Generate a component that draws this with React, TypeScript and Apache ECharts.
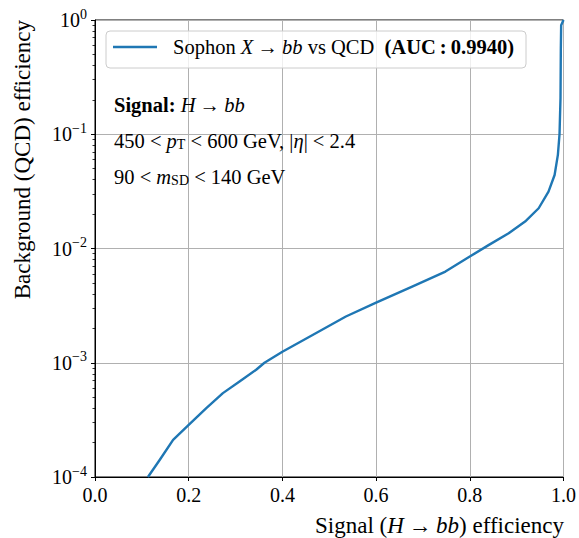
import React, { useEffect, useRef } from "react";
import * as echarts from "echarts";

const signalEff = [0.113, 0.138, 0.1667, 0.2, 0.2376, 0.273, 0.3085, 0.344, 0.3617, 0.4, 0.4645, 0.5355, 0.6, 0.677, 0.748, 0.8, 0.84, 0.883, 0.918, 0.947, 0.968, 0.981, 0.988, 0.9915, 0.9936, 0.9943, 0.995, 1.0];
const bkgEff = [1e-4, 1.41e-4, 2.11e-4, 2.86e-4, 4.01e-4, 5.42e-4, 6.85e-4, 8.68e-4, 1.0e-3, 1.25e-3, 1.75e-3, 2.54e-3, 3.36e-3, 4.64e-3, 6.28e-3, 8.5e-3, 1.07e-2, 1.36e-2, 1.72e-2, 2.25e-2, 3.15e-2, 4.4e-2, 6.6e-2, 0.1, 0.206, 0.565, 0.9, 1.0];
const xTicks = [0, 0.2, 0.4, 0.6, 0.8, 1.0];

const FONT = "'Liberation Serif', 'DejaVu Serif', serif";
const FS = 20.5;
const TICK_FS = 20;
const LABEL_FS = 23;

export default function App() {
  const ref = useRef<HTMLDivElement>(null);
  useEffect(() => {
    if (!ref.current) return;
    document.body.style.margin = "0";
    const chart = echarts.init(ref.current, null, { renderer: "svg" });
    const minorTicks: number[] = [];
    for (let e = -4; e < 0; e++) for (let m = 2; m <= 9; m++) minorTicks.push(m * Math.pow(10, e));
    const italic = { fontStyle: "italic", fontFamily: FONT, fontSize: FS, fill: "#000" };
    const bold = { fontWeight: "bold", fontFamily: FONT, fontSize: FS, fill: "#000" };
    const sub = { fontFamily: FONT, fontSize: 14, verticalAlign: "bottom" };
    const option: any = {
      animation: false,
      textStyle: { fontFamily: FONT },
      grid: { left: 95, right: 14, top: 20, bottom: 61, show: true, borderColor: "#000", borderWidth: 1, backgroundColor: "transparent" },
      xAxis: {
        type: "value", min: 0, max: 1, interval: 0.2,
        axisLine: { lineStyle: { color: "#000", width: 1 } },
        axisTick: { show: true, inside: false, length: 4, lineStyle: { color: "#000" } },
        axisLabel: { color: "#000", fontSize: TICK_FS, fontFamily: FONT, margin: 8, formatter: (v: number) => v.toFixed(1),
          customValues: xTicks },
        splitLine: { show: true, lineStyle: { color: "#b0b0b0", width: 1 } },
      },
      yAxis: [
        {
          type: "log", logBase: 10, min: 1e-4, max: 1,
          axisLine: { show: true, lineStyle: { color: "#000", width: 1 } },
          axisTick: { show: true, inside: false, length: 4, lineStyle: { color: "#000" } },
          axisLabel: {
            color: "#000", margin: 8,
            formatter: (v: number) => {
              const e = Math.round(Math.log10(v));
              return `{b|10}{s|${e < 0 ? "\u2212" + -e : e}}`;
            },
            rich: {
              b: { fontSize: TICK_FS, fontFamily: FONT, color: "#000", lineHeight: 26 },
              s: { fontSize: 14, fontFamily: FONT, color: "#000", verticalAlign: "top", lineHeight: 26 },
            },
          },
          splitLine: { show: true, lineStyle: { color: "#b0b0b0", width: 1 } },
        },
        {
          type: "log", logBase: 10, min: 1e-4, max: 1, position: "left",
          axisLine: { show: false },
          axisLabel: { show: false },
          splitLine: { show: false },
          axisTick: { show: true, inside: false, length: 2.5, customValues: minorTicks, lineStyle: { color: "#000", width: 0.8 } },
        },
      ],
      series: [
        {
          type: "line", yAxisIndex: 0, showSymbol: false, smooth: false,
          data: signalEff.map((x, i) => [x, bkgEff[i]]),
          lineStyle: { color: "#1f77b4", width: 2.4, join: "round" },
          itemStyle: { color: "#1f77b4" },
          z: 3,
        },
      ],
      graphic: [
        { type: "rect", shape: { x: 106, y: 31, width: 420, height: 37, r: 4 }, style: { fill: "rgba(255,255,255,0.8)", stroke: "#cccccc", lineWidth: 1 }, z: 10 },
        { type: "line", shape: { x1: 113, y1: 47, x2: 157, y2: 47 }, style: { stroke: "#1f77b4", lineWidth: 2.4 }, z: 11 },
        {
          type: "text", x: 173, y: 47, z: 11,
          style: {
            text: "Sophon {i|X}\u2009\u2192\u2009{i|bb} vs QCD  {bd|(AUC\u2009:\u20090.9940)}",
            fontFamily: FONT, fontSize: FS, fill: "#000", verticalAlign: "middle", align: "left",
            rich: { i: italic, bd: bold },
          },
        },
        {
          type: "text", x: 114, y: 105, z: 11,
          style: {
            text: "{bd|Signal:} {i|H}\u2009\u2192\u2009{i|bb}",
            fontFamily: FONT, fontSize: FS, fill: "#000", verticalAlign: "middle", align: "left",
            rich: { i: italic, bd: bold },
          },
        },
        {
          type: "text", x: 114, y: 141, z: 11,
          style: {
            text: "450 < {i|p}{s|T} < 600 GeV, |{i|\u03b7}| < 2.4",
            fontFamily: FONT, fontSize: FS, fill: "#000", verticalAlign: "middle", align: "left",
            rich: { i: italic, s: sub },
          },
        },
        {
          type: "text", x: 114, y: 177, z: 11,
          style: {
            text: "90 < {i|m}{s|SD} < 140 GeV",
            fontFamily: FONT, fontSize: FS, fill: "#000", verticalAlign: "middle", align: "left",
            rich: { i: italic, s: sub },
          },
        },
        {
          type: "text", x: 564, y: 525, z: 11,
          style: {
            text: "Signal ({i|H}\u2009\u2192\u2009{i|bb}) efficiency",
            fontFamily: FONT, fontSize: LABEL_FS, fill: "#000", verticalAlign: "middle", align: "right",
            rich: { i: { ...italic, fontSize: LABEL_FS } },
          },
        },
        {
          type: "text", x: 22, y: 20, rotation: Math.PI / 2, z: 11,
          style: {
            text: "Background (QCD) efficiency",
            fontFamily: FONT, fontSize: LABEL_FS, fill: "#000", verticalAlign: "middle", align: "right",
          },
        },
      ],
    };
    chart.setOption(option);
    return () => chart.dispose();
  }, []);
  return <div ref={ref} style={{ width: 579, height: 538 }} />;
}
